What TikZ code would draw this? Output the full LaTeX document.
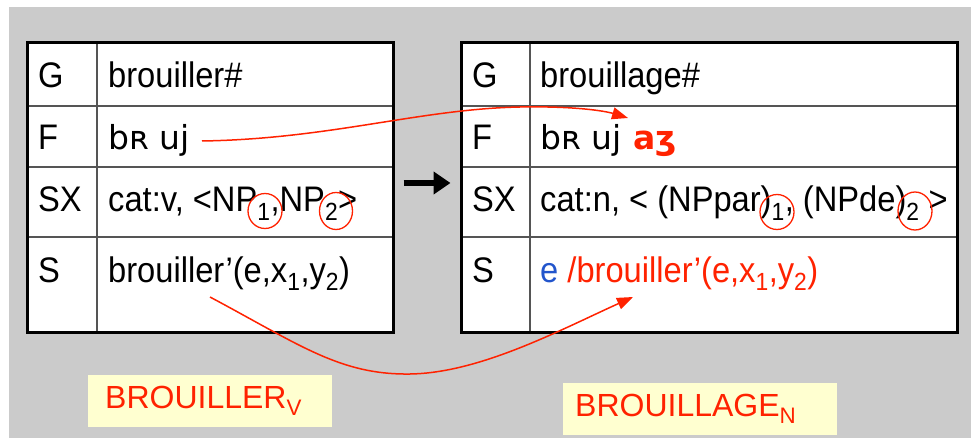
\documentclass[tikz,border=0pt]{standalone}
\usepackage{fontspec}
\setmainfont{Liberation Sans}
\newfontfamily\tabfont{Liberation Sans}[FakeStretch=0.92]
\newfontfamily\ipafont{DejaVu Sans}
\usetikzlibrary{arrows.meta}

\definecolor{bggray}{HTML}{CBCBCB}
\definecolor{labelyellow}{HTML}{FFFFD0}
\definecolor{penred}{HTML}{FF2200}
\definecolor{eblue}{HTML}{2255CC}
\definecolor{rulegray}{HTML}{555555}

\begin{document}
\begin{tikzpicture}[
    x=1pt, y=-1pt,
    tabframe/.style={rectangle, draw=black, line width=3pt, fill=white, inner sep=0pt, minimum height=289pt},
    tabrule/.style={draw=rulegray, line width=1.5pt},
    cell/.style={anchor=base west, inner sep=0pt, font=\fontsize{35.5}{42}\tabfont},
    phon/.style={cell, font=\fontsize{33}{40}\ipafont},
    lexlabel/.style={rectangle, fill=labelyellow, text=penred, anchor=west, align=left, minimum height=52pt, font=\fontsize{32}{38}\selectfont},
    link/.style={draw=penred, line width=1.5pt, -{Triangle[length=16pt,width=12pt]}},
    bigarrow/.style={draw=black, line width=6pt, -{Triangle[length=17pt,width=22pt]}, shorten <=9pt, shorten >=9pt},
    circ/.style={draw=penred, line width=1.3pt}
]
\useasboundingbox (0,0) rectangle (971,438);
\fill[bggray] (9,7) rectangle (971,438);

% the two entries
\node[tabframe, minimum width=366pt] (ltab) at (210,187.5) {};
\node[tabframe, minimum width=496pt] (rtab) at (709,187.5) {};
\foreach \y in {106,167,237} {
  \draw[tabrule] (28.5,\y) -- (391.5,\y);
  \draw[tabrule] (462.5,\y) -- (955.5,\y);
}
\draw[tabrule] (97,44.5) -- (97,330.5);
\draw[tabrule] (530,44.5) -- (530,330.5);

% left entry: verb
\node[cell] (lg) at (38,88) {G};
\node[cell] (lf) at (38,150) {F};
\node[cell] (lsx) at (38,212) {SX};
\node[cell] (ls) at (38,282) {S};
\node[cell] (lgv) at (108,88) {brouiller\#};
\node[phon] (lfv) at (108,150) {bʀ uj};
\node[cell] (lsxv) at (108,212) {cat:v, <NP\textsubscript{1},NP\textsubscript{2}>};
\node[cell] (lsv) at (108,282) {brouiller’(e,x\textsubscript{1},y\textsubscript{2})};

% right entry: noun
\node[cell] (rg) at (472,88) {G};
\node[cell] (rf) at (472,150) {F};
\node[cell] (rsx) at (472,212) {SX};
\node[cell] (rs) at (472,282) {S};
\node[cell] (rgv) at (540,88) {brouillage\#};
\node[phon] (rfv) at (540,150) {bʀ uj};
\node[phon, text=penred] (raz) at ([xshift=11pt]rfv.base east) {\bfseries aʒ};
\node[cell] (rsxv) at (540,212) {cat:n, < (NPpar)\textsubscript{1}, (NPde)\textsubscript{2} >};
\node[cell] (rsv) at (540,282) {\textcolor{eblue}{e} \textcolor{penred}{/brouiller’(e,x\textsubscript{1},y\textsubscript{2})}};

% hand circles round the indices
\draw[circ] (265,211) ellipse (17pt and 17.5pt);
\draw[circ] (336,211) ellipse (16.5pt and 18.5pt);
\draw[circ] (777,212) ellipse (17pt and 17.5pt);
\draw[circ] (915,211) ellipse (17pt and 19pt);

% derivation arrow
\draw[bigarrow] ([yshift=4.5pt]ltab.east) -- ([yshift=4.5pt]rtab.west);

% red links
\coordinate (fstart) at (202,141);
\coordinate (fend) at (628,118);
\coordinate (sstart) at (210,297);
\coordinate (send) at (633,297);
\draw[link] (fstart) .. controls (330,139) and (420,109) .. (520,107) .. controls (575,106) and (605,111) .. (fend);
\draw[link] (sstart) .. controls (300,345) and (340,375) .. (410,374) .. controls (480,373) and (560,330) .. (send);

% labels
\node[lexlabel, inner xsep=17pt, text width=210pt] (verb) at (88,401) {BROUILLER\textsubscript{V}};
\node[lexlabel, inner xsep=12pt, text width=250pt] (noun) at (563,409) {BROUILLAGE\textsubscript{N}};

\end{tikzpicture}
\end{document}
